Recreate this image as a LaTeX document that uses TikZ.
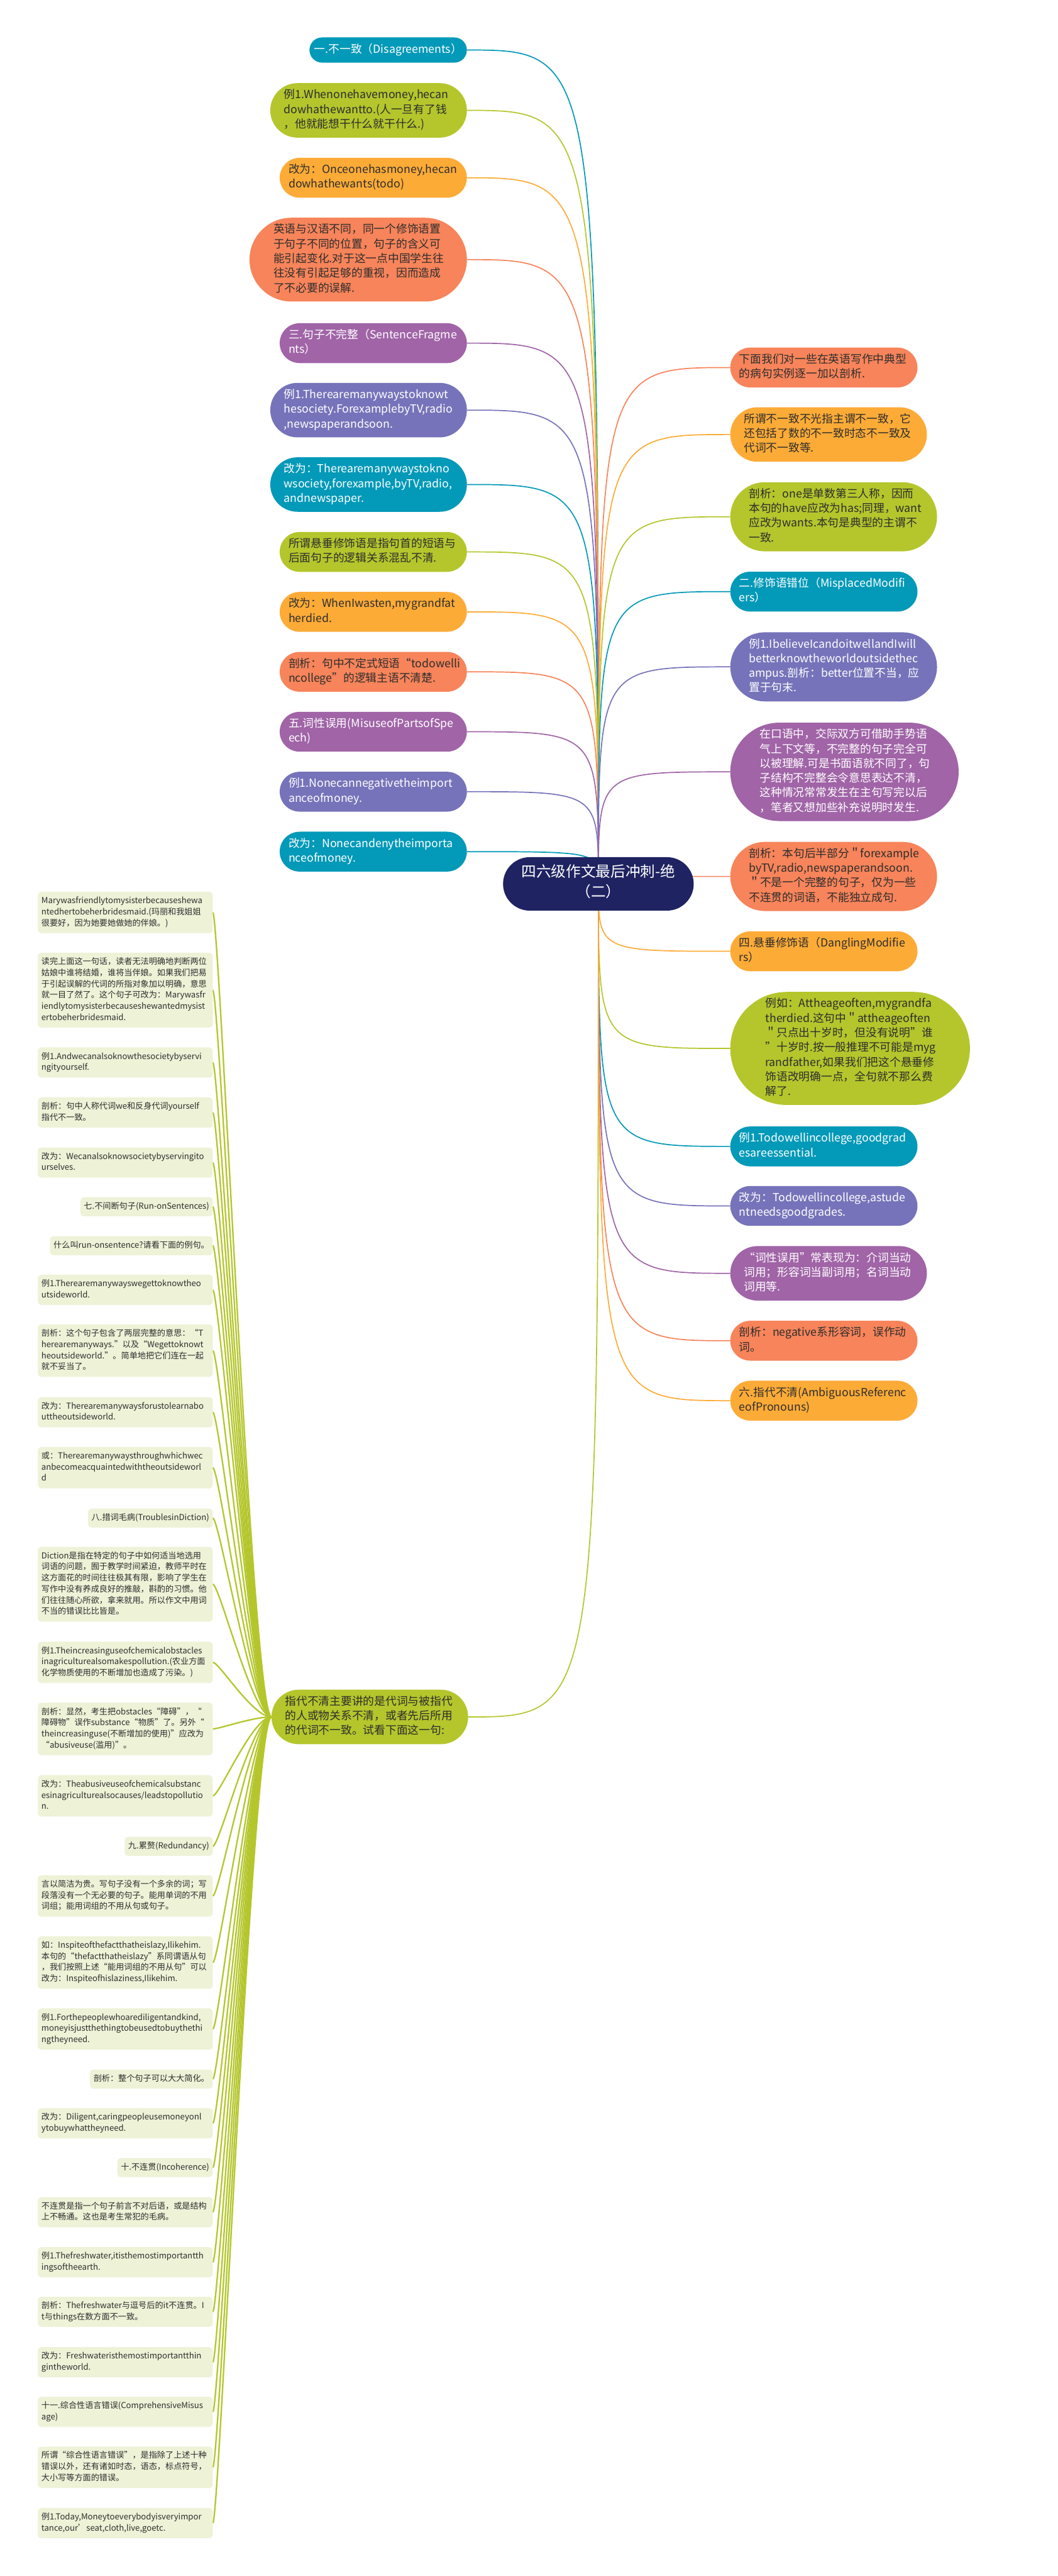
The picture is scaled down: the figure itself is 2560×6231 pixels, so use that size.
\documentclass[tikz,border=0pt]{standalone}
\usepackage{fontspec}
\setmainfont{Noto Sans CJK SC}
\usepackage{tikz}
\usetikzlibrary{shapes.misc,backgrounds}
\usepackage{xcolor}
\definecolor{mmcyan}{HTML}{0399B8}
\definecolor{mmgreen}{HTML}{B4C62C}
\definecolor{mmorange}{HTML}{FDAB37}
\definecolor{mmred}{HTML}{F7845A}
\definecolor{mmpurple}{HTML}{A064A7}
\definecolor{mmviolet}{HTML}{7673BA}
\definecolor{mmnavy}{HTML}{1F2361}
\definecolor{leafbg}{HTML}{EEF2D7}
\definecolor{ink}{HTML}{2D2D2D}
\newcommand{\pillfont}{\fontsize{27}{35.4}\selectfont}
\newcommand{\leaffont}{\fontsize{20}{27}\selectfont}
\newcommand{\rootfont}{\fontsize{36}{49}\selectfont}

\begin{document}
\begin{tikzpicture}[x=1pt, y=-1pt,
  pill/.style={rounded rectangle, inner xsep=6pt, inner ysep=12.8pt, align=left, font=\pillfont,
    execute at begin node=\strut, execute at end node=\strut},
  pillwide/.style={text width=410pt},
  cyanpill/.style={pill, fill=mmcyan, text=white},
  greenpill/.style={pill, fill=mmgreen, text=ink},
  orangepill/.style={pill, fill=mmorange, text=ink},
  redpill/.style={pill, fill=mmred, text=ink},
  purplepill/.style={pill, fill=mmpurple, text=white},
  violetpill/.style={pill, fill=mmviolet, text=white},
  leaf/.style={rectangle, rounded corners=8pt, fill=leafbg, text=ink, inner xsep=8.5pt, inner ysep=9.5pt,
    align=left, font=\leaffont, anchor=east, execute at begin node=\strut, execute at end node=\strut},
  leafwide/.style={leaf, text width=406pt},
  branch/.style={line width=2.6pt, draw=#1},
  twig/.style={line width=3.5pt, draw=mmgreen}]
  \useasboundingbox (0,0) rectangle (2560,6231);
  \begin{scope}[on background layer]
    \fill[white] (0,0) rectangle (2560,6231);
  \end{scope}

  \node[rounded rectangle, fill=mmnavy, text=white, font=\rootfont, align=center, inner xsep=24pt, inner ysep=17.5pt,
    execute at begin node=\strut, execute at end node=\strut] (root) at (1448,2138) {四六级作文最后冲刺-绝\\（二）};

  \node[cyanpill, anchor=east] (disagree) at (1130,121) {一.不一致（Disagreements）};
  \node[greenpill, pillwide, anchor=east] (disex) at (1130,267) {例1.Whenonehavemoney,hecan\\dowhathewantto.(人一旦有了钱\\，他就能想干什么就干什么.)};
  \node[orangepill, pillwide, anchor=east] (disfix) at (1130,430) {改为：Onceonehasmoney,hecan\\dowhathewants(todo)};
  \node[redpill, pillwide, anchor=east] (modnote) at (1130,628) {英语与汉语不同，同一个修饰语置\\于句子不同的位置，句子的含义可\\能引起变化.对于这一点中国学生往\\往没有引起足够的重视，因而造成\\了不必要的误解.};
  \node[purplepill, pillwide, anchor=east] (frag) at (1130,830) {三.句子不完整（SentenceFragme\\nts）};
  \node[violetpill, pillwide, anchor=east] (fragex) at (1130,992) {例1.Therearemanywaystoknowt\\hesociety.ForexamplebyTV,radio\\,newspaperandsoon.};
  \node[cyanpill, pillwide, anchor=east] (fragfix) at (1130,1172) {改为：Therearemanywaystokno\\wsociety,forexample,byTV,radio,\\andnewspaper.};
  \node[greenpill, pillwide, anchor=east] (dangnote) at (1130,1335) {所谓悬垂修饰语是指句首的短语与\\后面句子的逻辑关系混乱不清.};
  \node[orangepill, pillwide, anchor=east] (dangfix) at (1130,1480) {改为：WhenIwasten,mygrandfat\\herdied.};
  \node[redpill, pillwide, anchor=east] (danganal) at (1130,1625) {剖析：句中不定式短语“todowelli\\ncollege”的逻辑主语不清楚.};
  \node[purplepill, pillwide, anchor=east] (speech) at (1130,1770) {五.词性误用(MisuseofPartsofSpe\\ech)};
  \node[violetpill, pillwide, anchor=east] (speechex) at (1130,1915) {例1.Nonecannegativetheimport\\anceofmoney.};
  \node[cyanpill, pillwide, anchor=east] (speechfix) at (1130,2060) {改为：Nonecandenytheimporta\\nceofmoney.};
  \node[greenpill, pillwide, anchor=east] (refnote) at (1133,4153) {指代不清主要讲的是代词与被指代\\的人或物关系不清，或者先后所用\\的代词不一致。试看下面这一句:};

  \node[redpill, pillwide, anchor=west] (intro) at (1767,889) {下面我们对一些在英语写作中典型\\的病句实例逐一加以剖析.};
  \node[orangepill, pillwide, anchor=west] (disnote) at (1767,1051) {所谓不一致不光指主谓不一致，它\\还包括了数的不一致时态不一致及\\代词不一致等.};
  \node[greenpill, pillwide, anchor=west] (disanal) at (1767,1250) {剖析：one是单数第三人称，因而\\本句的have应改为has;同理，want\\应改为wants.本句是典型的主谓不\\一致.};
  \node[cyanpill, pillwide, anchor=west] (misplace) at (1767,1431) {二.修饰语错位（MisplacedModifi\\ers）};
  \node[violetpill, pillwide, anchor=west] (misex) at (1767,1613) {例1.IbelieveIcandoitwellandIwill\\betterknowtheworldoutsidethec\\ampus.剖析：better位置不当，应\\置于句末.};
  \node[purplepill, pillwide, anchor=west] (fragnote) at (1767,1867) {在口语中，交际双方可借助手势语\\气上下文等，不完整的句子完全可\\以被理解.可是书面语就不同了，句\\子结构不完整会令意思表达不清，\\这种情况常常发生在主句写完以后\\，笔者又想加些补充说明时发生.};
  \node[redpill, pillwide, anchor=west] (fraganal) at (1767,2120) {剖析：本句后半部分＂forexample\\byTV,radio,newspaperandsoon.\\＂不是一个完整的句子，仅为一些\\不连贯的词语，不能独立成句.};
  \node[orangepill, pillwide, anchor=west] (dangling) at (1767,2301) {四.悬垂修饰语（DanglingModifie\\rs）};
  \node[greenpill, pillwide, anchor=west] (dangex) at (1767,2536) {例如：Attheageoften,mygrandfa\\therdied.这句中＂attheageoften\\＂只点出十岁时，但没有说明”谁\\”十岁时.按一般推理不可能是myg\\randfather,如果我们把这个悬垂修\\饰语改明确一点，全句就不那么费\\解了.};
  \node[cyanpill, pillwide, anchor=west] (dangex1) at (1767,2773) {例1.Todowellincollege,goodgrad\\esareessential.};
  \node[violetpill, pillwide, anchor=west] (dangfix1) at (1767,2917) {改为：Todowellincollege,astude\\ntneedsgoodgrades.};
  \node[purplepill, pillwide, anchor=west] (speechnote) at (1767,3080) {“词性误用”常表现为：介词当动\\词用；形容词当副词用；名词当动\\词用等.};
  \node[redpill, pillwide, anchor=west] (speechanal) at (1767,3243) {剖析：negative系形容词，误作动\\词。};
  \node[orangepill, pillwide, anchor=west] (ambig) at (1767,3388) {六.指代不清(AmbiguousReferenc\\eofPronouns)};

  \node[leafwide] (leaf1) at (515,2207) {Marywasfriendlytomysisterbecauseshewa\\ntedhertobeherbridesmaid.(玛丽和我姐姐\\很要好，因为她要她做她的伴娘。)};
  \node[leafwide] (leaf2) at (515,2395) {读完上面这一句话，读者无法明确地判断两位\\姑娘中谁将结婚，谁将当伴娘。如果我们把易\\于引起误解的代词的所指对象加以明确，意思\\就一目了然了。这个句子可改为：Marywasfr\\iendlytomysisterbecauseshewantedmysist\\ertobeherbridesmaid.};
  \node[leafwide] (leaf3) at (515,2570) {例1.Andwecanalsoknowthesocietybyservi\\ngityourself.};
  \node[leafwide] (leaf4) at (515,2691) {剖析：句中人称代词we和反身代词yourself\\指代不一致。};
  \node[leafwide] (leaf5) at (515,2812) {改为：Wecanalsoknowsocietybyservingito\\urselves.};
  \node[leaf] (leaf6) at (515,2919) {七.不间断句子(Run-onSentences)};
  \node[leaf] (leaf7) at (515,3013) {什么叫run-onsentence?请看下面的例句。};
  \node[leafwide] (leaf8) at (515,3120) {例1.Therearemanywayswegettoknowtheo\\utsideworld.};
  \node[leafwide] (leaf9) at (515,3267) {剖析：这个句子包含了两层完整的意思：“T\\herearemanyways.”以及“Wegettoknowt\\heoutsideworld.”。简单地把它们连在一起\\就不妥当了。};
  \node[leafwide] (leaf10) at (515,3416) {改为：Therearemanywaysforustolearnabo\\uttheoutsideworld.};
  \node[leafwide] (leaf11) at (515,3550) {或：Therearemanywaysthroughwhichwec\\anbecomeacquaintedwiththeoutsideworl\\d};
  \node[leaf] (leaf12) at (515,3672) {八.措词毛病(TroublesinDiction)};
  \node[leafwide] (leaf13) at (515,3832) {Diction是指在特定的句子中如何适当地选用\\词语的问题，囿于教学时间紧迫，教师平时在\\这方面花的时间往往极其有限，影响了学生在\\写作中没有养成良好的推敲，斟酌的习惯。他\\们往往随心所欲，拿来就用。所以作文中用词\\不当的错误比比皆是。};
  \node[leafwide] (leaf14) at (515,4021) {例1.Theincreasinguseofchemicalobstacles\\inagriculturealsomakespollution.(农业方面\\化学物质使用的不断增加也造成了污染。)};
  \node[leafwide] (leaf15) at (515,4182) {剖析：显然，考生把obstacles“障碍”，“\\障碍物”误作substance“物质”了。另外“\\theincreasinguse(不断增加的使用)”应改为\\“abusiveuse(滥用)”。};
  \node[leafwide] (leaf16) at (515,4344) {改为：Theabusiveuseofchemicalsubstanc\\esinagriculturealsocauses/leadstopollutio\\n.};
  \node[leaf] (leaf17) at (515,4466) {九.累赘(Redundancy)};
  \node[leafwide] (leaf18) at (515,4586) {言以简洁为贵。写句子没有一个多余的词；写\\段落没有一个无必要的句子。能用单词的不用\\词组；能用词组的不用从句或句子。};
  \node[leafwide] (leaf19) at (515,4747) {如：Inspiteofthefactthatheislazy,Ilikehim.\\本句的“thefactthatheislazy”系同谓语从句\\，我们按照上述“能用词组的不用从句”可以\\改为：Inspiteofhislaziness,Ilikehim.};
  \node[leafwide] (leaf20) at (515,4908) {例1.Forthepeoplewhoarediligentandkind,\\moneyisjustthethingtobeusedtobuythethi\\ngtheyneed.};
  \node[leaf] (leaf21) at (515,5029) {剖析：整个句子可以大大简化。};
  \node[leafwide] (leaf22) at (515,5136) {改为：Diligent,caringpeopleusemoneyonl\\ytobuywhattheyneed.};
  \node[leaf] (leaf23) at (515,5243) {十.不连贯(Incoherence)};
  \node[leafwide] (leaf24) at (515,5351) {不连贯是指一个句子前言不对后语，或是结构\\上不畅通。这也是考生常犯的毛病。};
  \node[leafwide] (leaf25) at (515,5472) {例1.Thefreshwater,itisthemostimportantth\\ingsoftheearth.};
  \node[leafwide] (leaf26) at (515,5592) {剖析：Thefreshwater与逗号后的it不连贯。I\\t与things在数方面不一致。};
  \node[leafwide] (leaf27) at (515,5714) {改为：Freshwateristhemostimportantthin\\gintheworld.};
  \node[leafwide] (leaf28) at (515,5834) {十一.综合性语言错误(ComprehensiveMisus\\age)};
  \node[leafwide] (leaf29) at (515,5968) {所谓“综合性语言错误”，是指除了上述十种\\错误以外，还有诸如时态，语态，标点符号，\\大小写等方面的错误。};
  \node[leafwide] (leaf30) at (515,6103) {例1.Today,Moneytoeverybodyisveryimpor\\tance,our’seat,cloth,live,goetc.};

  \begin{scope}[on background layer]
    \foreach \n/\c in {disagree/mmcyan, disex/mmgreen, disfix/mmorange, modnote/mmred, frag/mmpurple,
        fragex/mmviolet, fragfix/mmcyan, dangnote/mmgreen, dangfix/mmorange, danganal/mmred,
        speech/mmpurple, speechex/mmviolet, speechfix/mmcyan, refnote/mmgreen}
      \draw[branch=\c] (root.center) .. controls (root.center |- \n.east) .. (\n.east);
    \foreach \n/\c in {intro/mmred, disnote/mmorange, disanal/mmgreen, misplace/mmcyan, misex/mmviolet,
        fragnote/mmpurple, fraganal/mmred, dangling/mmorange, dangex/mmgreen, dangex1/mmcyan,
        dangfix1/mmviolet, speechnote/mmpurple, speechanal/mmred, ambig/mmorange}
      \draw[branch=\c] (root.center) .. controls (root.center |- \n.west) .. (\n.west);
    \foreach \i in {1,...,30}
      \draw[twig] (refnote.west) .. controls +(-46,0) and +(16,0) .. (leaf\i.east);
  \end{scope}
\end{tikzpicture}
\end{document}
